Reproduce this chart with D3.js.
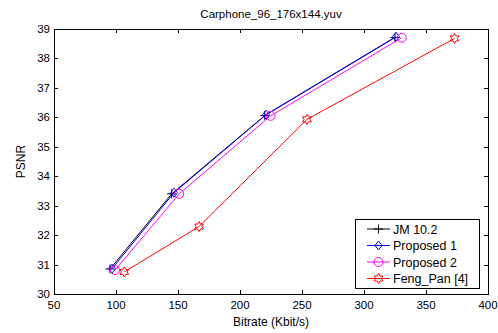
<!DOCTYPE html>
<html>
<head>
<meta charset="utf-8">
<script src="https://cdn.jsdelivr.net/npm/d3@7"></script>
<style>
  body { margin: 0; background: #fff; }
  text { font-family: Arial, "Liberation Sans", Helvetica, sans-serif; fill: #000; }
</style>
</head>
<body>
<svg id="chart" width="498" height="333"></svg>
<script>
// Chart data
const seriesNames = ['JM 10.2', 'Proposed 1', 'Proposed 2', 'Feng_Pan [4]'];
const jmBitrate = [95.2, 144.9, 220, 325];
const jmPsnr = [30.85, 33.40, 36.06, 38.71];
const prop1Bitrate = [96.8, 146.8, 221, 325.8];
const prop1Psnr = [30.86, 33.44, 36.09, 38.74];
const prop2Bitrate = [99.2, 151, 224.7, 330.4];
const prop2Psnr = [30.81, 33.40, 36.05, 38.70];
const fengBitrate = [106.7, 167, 254, 373];
const fengPsnr = [30.75, 32.29, 35.93, 38.68];
const xTicks = [50, 100, 150, 200, 250, 300, 350, 400];
const yTicks = [30, 31, 32, 33, 34, 35, 36, 37, 38, 39];

// Layout
const svg = d3.select('#chart');
const plotLeft = 54, plotRight = 488, plotTop = 29, plotBottom = 294;

const x = d3.scaleLinear().domain([50, 400]).range([plotLeft, plotRight]);
const y = d3.scaleLinear().domain([30, 39]).range([plotBottom, plotTop]);

const series = [
  { name: seriesNames[0], xs: jmBitrate, ys: jmPsnr, color: '#000000', marker: 'plus' },
  { name: seriesNames[1], xs: prop1Bitrate, ys: prop1Psnr, color: '#0000ff', marker: 'diamond' },
  { name: seriesNames[2], xs: prop2Bitrate, ys: prop2Psnr, color: '#ff00ff', marker: 'circle' },
  { name: seriesNames[3], xs: fengBitrate, ys: fengPsnr, color: '#ff0000', marker: 'hexagram' }
];

// Marker path builder
function markerPath(type, cx, cy) {
  const p = d3.path();
  if (type === 'plus') {
    p.moveTo(cx - 4.5, cy); p.lineTo(cx + 4.5, cy);
    p.moveTo(cx, cy - 4.5); p.lineTo(cx, cy + 4.5);
  } else if (type === 'diamond') {
    p.moveTo(cx, cy - 4.5); p.lineTo(cx + 3.5, cy);
    p.lineTo(cx, cy + 4.5); p.lineTo(cx - 3.5, cy); p.closePath();
  } else if (type === 'circle') {
    p.moveTo(cx + 4.5, cy); p.arc(cx, cy, 4.5, 0, 2 * Math.PI);
  } else if (type === 'hexagram') {
    for (let i = 0; i < 12; i++) {
      const r = i % 2 === 0 ? 5 : 2.9;
      const a = -Math.PI / 2 + i * Math.PI / 6;
      const px = cx + r * Math.cos(a), py = cy + r * Math.sin(a);
      if (i === 0) p.moveTo(px, py); else p.lineTo(px, py);
    }
    p.closePath();
  }
  return p.toString();
}

// Axes box
svg.append('rect')
  .attr('x', plotLeft + 0.5).attr('y', plotTop + 0.5)
  .attr('width', plotRight - plotLeft).attr('height', plotBottom - plotTop)
  .attr('fill', '#fff').attr('stroke', '#000').attr('stroke-width', 1);

// Ticks (inward, on all four sides)
const tickLen = 4;
const g = svg.append('g').attr('stroke', '#000').attr('stroke-width', 1);
xTicks.forEach(t => {
  const px = Math.round(x(t)) + 0.5;
  g.append('line').attr('x1', px).attr('x2', px).attr('y1', plotBottom).attr('y2', plotBottom - tickLen);
  g.append('line').attr('x1', px).attr('x2', px).attr('y1', plotTop).attr('y2', plotTop + tickLen);
});
yTicks.forEach(t => {
  const py = Math.round(y(t)) + 0.5;
  g.append('line').attr('x1', plotLeft).attr('x2', plotLeft + tickLen).attr('y1', py).attr('y2', py);
  g.append('line').attr('x1', plotRight).attr('x2', plotRight - tickLen).attr('y1', py).attr('y2', py);
});

// Tick labels
svg.selectAll('.xlabel')
  .data(xTicks)
  .enter().append('text')
  .attr('class', 'xlabel')
  .attr('x', d => x(d))
  .attr('y', 309)
  .attr('text-anchor', 'middle')
  .attr('font-size', 11.5)
  .text(d => d);

svg.selectAll('.ylabel')
  .data(yTicks)
  .enter().append('text')
  .attr('class', 'ylabel')
  .attr('x', 50)
  .attr('y', d => y(d) + 4)
  .attr('text-anchor', 'end')
  .attr('font-size', 11.5)
  .text(d => d);

// Title and axis labels
svg.append('text')
  .attr('x', (plotLeft + plotRight) / 2).attr('y', 18)
  .attr('text-anchor', 'middle').attr('font-size', 11.5)
  .text('Carphone_96_176x144.yuv');

svg.append('text')
  .attr('x', (plotLeft + plotRight) / 2).attr('y', 326)
  .attr('text-anchor', 'middle').attr('font-size', 12)
  .text('Bitrate (Kbit/s)');

svg.append('text')
  .attr('transform', 'translate(25,' + ((plotTop + plotBottom) / 2) + ') rotate(-90)')
  .attr('text-anchor', 'middle').attr('font-size', 12)
  .text('PSNR');

// Series lines and markers
const line = d3.line().x(d => x(d[0])).y(d => y(d[1]));
series.forEach(s => {
  const pts = s.xs.map((v, i) => [v, s.ys[i]]);
  svg.append('path')
    .attr('d', line(pts))
    .attr('fill', 'none')
    .attr('stroke', s.color)
    .attr('stroke-width', 1);
  svg.append('g').selectAll('path')
    .data(pts)
    .enter().append('path')
    .attr('d', d => markerPath(s.marker, x(d[0]), y(d[1])))
    .attr('fill', 'none')
    .attr('stroke', s.color)
    .attr('stroke-width', 1);
});

// Legend
const legX = 355, legY = 219, legW = 124, legH = 69, rowH = 16.5;
svg.append('rect')
  .attr('x', legX + 0.5).attr('y', legY + 0.5)
  .attr('width', legW).attr('height', legH)
  .attr('fill', '#fff').attr('stroke', '#000');

series.forEach((s, i) => {
  const cy = legY + 10 + i * rowH;
  svg.append('line')
    .attr('x1', legX + 12).attr('x2', legX + 35)
    .attr('y1', cy).attr('y2', cy)
    .attr('stroke', s.color);
  svg.append('path')
    .attr('d', markerPath(s.marker, legX + 23.5, cy))
    .attr('fill', 'none').attr('stroke', s.color);
  svg.append('text')
    .attr('x', legX + 38).attr('y', cy + 4.5)
    .attr('font-size', 12.5)
    .text(s.name);
});
</script>
</body>
</html>
